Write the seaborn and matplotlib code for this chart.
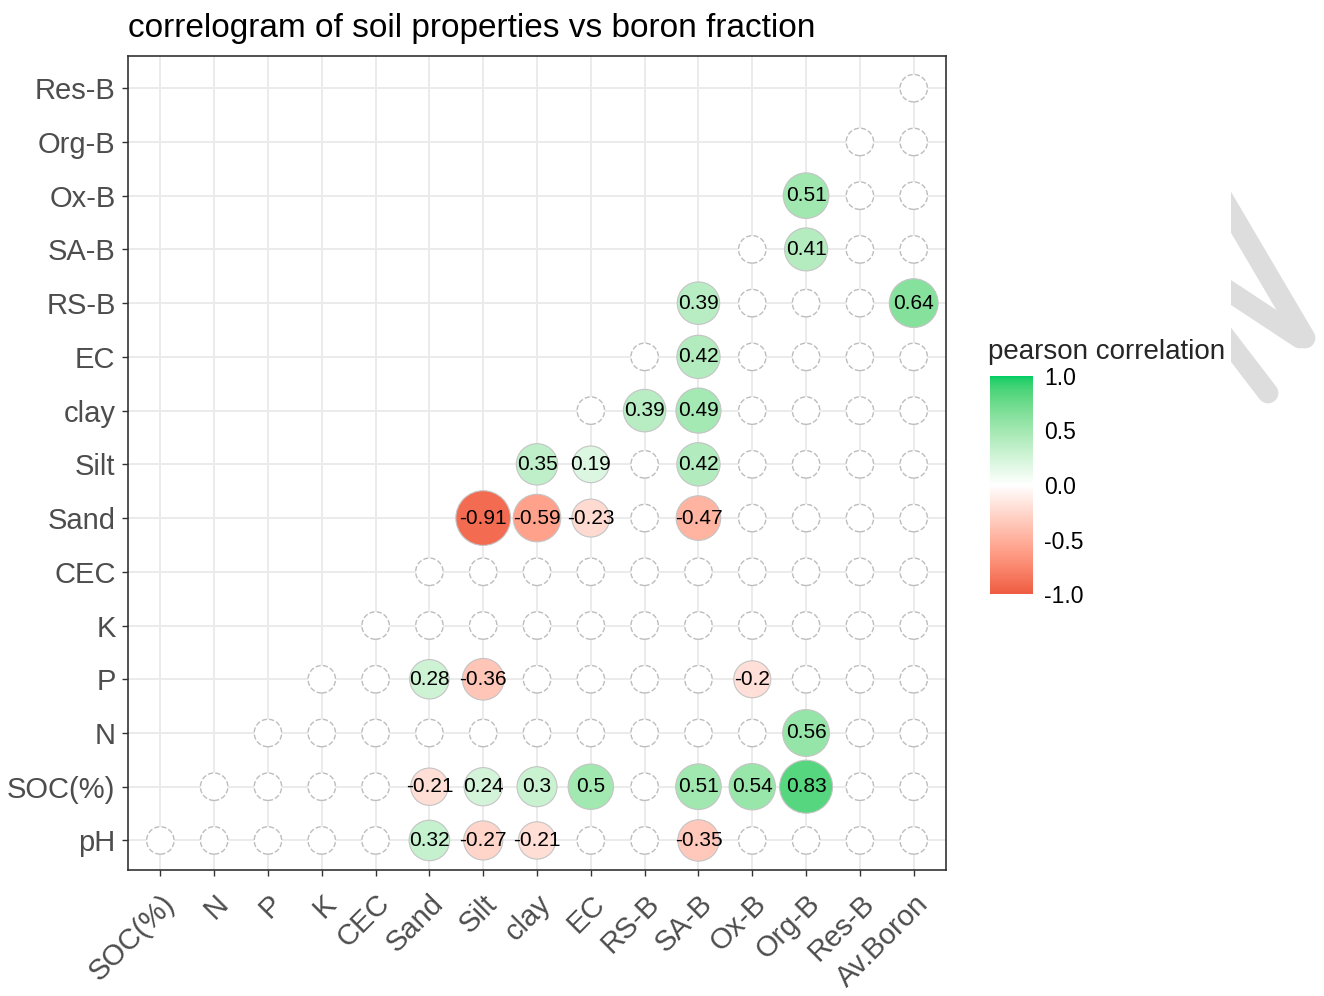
import numpy as np
import pandas as pd
import matplotlib
matplotlib.use('Agg')
import matplotlib.pyplot as plt
from matplotlib.colors import ListedColormap, Normalize, to_rgb
from matplotlib.cm import ScalarMappable
from matplotlib.lines import Line2D
from matplotlib.patches import Rectangle
import seaborn as sns

x_labels = ['SOC(%)', 'N', 'P', 'K', 'CEC', 'Sand', 'Silt', 'clay', 'EC',
            'RS-B', 'SA-B', 'Ox-B', 'Org-B', 'Res-B', 'Av.Boron']
y_labels = ['pH', 'SOC(%)', 'N', 'P', 'K', 'CEC', 'Sand', 'Silt', 'clay',
            'EC', 'RS-B', 'SA-B', 'Ox-B', 'Org-B', 'Res-B']

# significant correlations (row variable, column variable, r)
sig_y = ['pH', 'pH', 'pH', 'pH',
         'SOC(%)', 'SOC(%)', 'SOC(%)', 'SOC(%)', 'SOC(%)', 'SOC(%)', 'SOC(%)',
         'N',
         'P', 'P', 'P',
         'Sand', 'Sand', 'Sand', 'Sand',
         'Silt', 'Silt', 'Silt',
         'clay', 'clay',
         'EC',
         'RS-B', 'RS-B',
         'SA-B',
         'Ox-B']
sig_x = ['Sand', 'Silt', 'clay', 'SA-B',
         'Sand', 'Silt', 'clay', 'EC', 'SA-B', 'Ox-B', 'Org-B',
         'Org-B',
         'Sand', 'Silt', 'Ox-B',
         'Silt', 'clay', 'EC', 'SA-B',
         'clay', 'EC', 'SA-B',
         'RS-B', 'SA-B',
         'SA-B',
         'SA-B', 'Av.Boron',
         'Org-B',
         'Org-B']
sig_r = [0.32, -0.27, -0.21, -0.35,
         -0.21, 0.24, 0.3, 0.5, 0.51, 0.54, 0.83,
         0.56,
         0.28, -0.36, -0.2,
         -0.91, -0.59, -0.23, -0.47,
         0.35, 0.19, 0.42,
         0.39, 0.49,
         0.42,
         0.39, 0.64,
         0.41,
         0.51]

sig = pd.DataFrame({'x': sig_x, 'y': sig_y, 'r': sig_r})
sig['xi'] = pd.Categorical(sig['x'], categories=x_labels).codes
sig['yi'] = pd.Categorical(sig['y'], categories=y_labels).codes
sig['abs_r'] = sig['r'].abs()

# lower triangle cells that are not significant -> blank circles
cells = [(j, i) for i in range(len(y_labels)) for j in range(len(x_labels)) if j >= i]
sig_set = set(zip(sig['xi'], sig['yi']))
blank = pd.DataFrame([c for c in cells if c not in sig_set], columns=['xi', 'yi'])


# diverging gradient interpolated in Lab space (like ggplot's gradient2)
def rgb2lab(c):
    c = np.asarray(c, float)
    lin = np.where(c > 0.04045, ((c + 0.055) / 1.055) ** 2.4, c / 12.92)
    M = np.array([[0.4124, 0.3576, 0.1805],
                  [0.2126, 0.7152, 0.0722],
                  [0.0193, 0.1192, 0.9505]])
    xyz = M @ lin / np.array([0.95047, 1.0, 1.08883])
    f = np.where(xyz > 0.008856, np.cbrt(xyz), 7.787 * xyz + 16 / 116)
    return np.array([116 * f[1] - 16, 500 * (f[0] - f[1]), 200 * (f[1] - f[2])])


def lab2rgb(lab):
    L, a, b = lab
    fy = (L + 16) / 116
    fx = fy + a / 500
    fz = fy - b / 200
    f = np.array([fx, fy, fz])
    xyz = np.where(f ** 3 > 0.008856, f ** 3, (f - 16 / 116) / 7.787)
    xyz = xyz * np.array([0.95047, 1.0, 1.08883])
    Minv = np.array([[3.2406, -1.5372, -0.4986],
                     [-0.9689, 1.8758, 0.0415],
                     [0.0557, -0.2040, 1.0570]])
    lin = Minv @ xyz
    c = np.where(lin > 0.0031308, 1.055 * np.clip(lin, 0, None) ** (1 / 2.4) - 0.055, 12.92 * lin)
    return np.clip(c, 0, 1)


low, mid, high = rgb2lab(to_rgb('#EE5C42')), rgb2lab(to_rgb('#FFFFFF')), rgb2lab(to_rgb('#00CD66'))
cols = []
for t in np.linspace(-1, 1, 256):
    lab = mid + (low - mid) * (-t) if t < 0 else mid + (high - mid) * t
    cols.append(lab2rgb(lab))
cmap = ListedColormap(cols)

sns.set_theme(style='white')
plt.rcParams['font.family'] = ['Liberation Sans', 'DejaVu Sans']

fig = plt.figure(figsize=(13.24, 9.96), dpi=100)
ax = fig.add_axes([0.0967, 0.1265, 0.6178, 0.8173])

ax.scatter(blank['xi'], blank['yi'], s=390, facecolor='white', edgecolor='#BDBDBD',
           linewidth=1.0, linestyle='--', zorder=3)
sns.scatterplot(data=sig, x='xi', y='yi', hue='r', size='abs_r',
                palette=cmap, hue_norm=(-1, 1), sizes=(473, 1658), size_norm=(0, 1),
                edgecolor='#C4C4C4', linewidth=0.8, legend=False, ax=ax, zorder=4)
for _, row in sig.iterrows():
    ax.text(row['xi'], row['yi'], '{:g}'.format(row['r']), ha='center', va='center',
            fontsize=15, color='black', zorder=5)

ax.set_xlim(-0.6, len(x_labels) - 0.4)
ax.set_ylim(-0.55, len(y_labels) - 0.4)
ax.set_xticks(range(len(x_labels)))
ax.set_xticklabels(x_labels, rotation=45, ha='right', va='top', rotation_mode='anchor')
ax.set_yticks(range(len(y_labels)))
ax.set_yticklabels(y_labels)
ax.set_xlabel('')
ax.set_ylabel('')
ax.grid(True, color='#EBEBEB', linewidth=1.4, zorder=0)
ax.set_axisbelow(True)
for sp in ax.spines.values():
    sp.set_color('#333333')
    sp.set_linewidth(1.2)
ax.tick_params(axis='both', length=4, width=1, color='#333333', labelsize=21,
               labelcolor='#4D4D4D', bottom=True, left=True)
ax.tick_params(axis='x', pad=10)
ax.tick_params(axis='y', pad=5)
ax.set_title('correlogram of soil properties vs boron fraction', fontsize=24,
             loc='left', color='black', pad=14)

# colour bar
cax = fig.add_axes([0.7477, 0.4036, 0.0325, 0.2189])
sm = ScalarMappable(norm=Normalize(-1, 1), cmap=cmap)
cbar = fig.colorbar(sm, cax=cax)
cbar.outline.set_visible(False)
cbar.set_ticks([-1, -0.5, 0, 0.5, 1])
cbar.set_ticklabels(['-1.0', '-0.5', '0.0', '0.5', '1.0'])
cax.yaxis.set_ticks_position('both')
cax.tick_params(axis='y', direction='in', color='white', length=6, width=1,
                labelleft=False, labelright=True, labelsize=16.5, labelcolor='black', pad=8)
fig.text(0.7462, 0.6466, 'pearson correlation', fontsize=20, va='center', ha='left')

# watermark strokes at the right edge
clip = Rectangle((1231, 0), 200, 996, transform=None)
for (x0, y0), (x1, y1) in [((1212, 180), (1305, 338)),
                           ((1212, 280), (1300, 338)),
                           ((1212, 320), (1268, 393))]:
    ln = Line2D([x0, x1], [996 - y0, 996 - y1], transform=None, color='#DDDDDD',
                linewidth=15, solid_capstyle='round')
    ln.set_clip_path(clip)
    fig.add_artist(ln)

fig.savefig('out.png', dpi=100)
